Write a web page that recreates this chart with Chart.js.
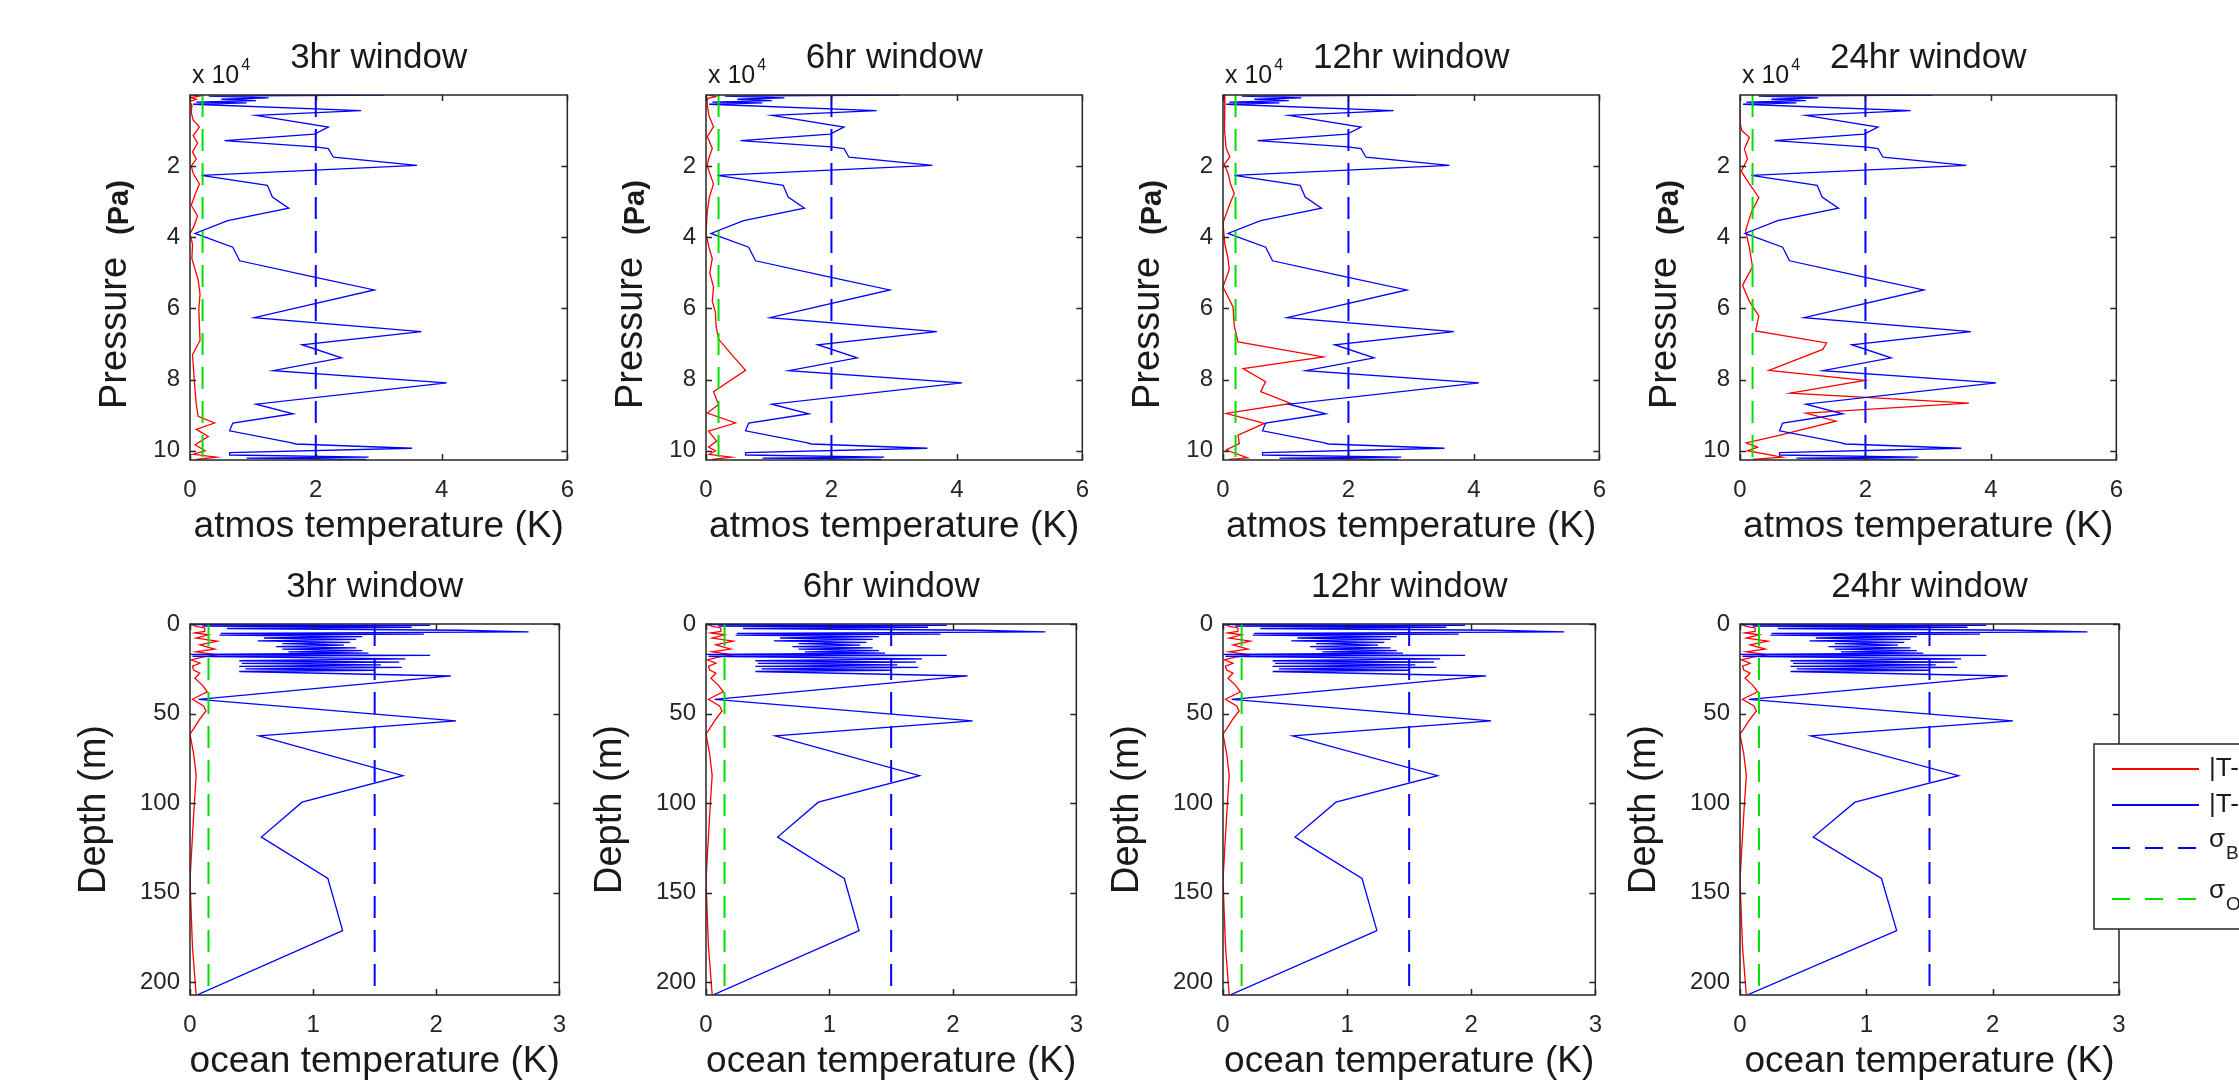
<!DOCTYPE html>
<html>
<head>
<meta charset="utf-8">
<script src="https://cdn.jsdelivr.net/npm/chart.js@4.4.1/dist/chart.umd.min.js"></script>
<style>
  html, body { margin: 0; padding: 0; background: #fff; overflow: hidden; }
  #figure { position: relative; width: 2239px; height: 1082px; }
  #figure canvas { position: absolute; }
</style>
</head>
<body>
<div id="figure"></div>
<script>
// ---- atmosphere: background error profile (same in every window) ----
// pressure in units of 1e4 Pa, error in K
const atmosBgPres = [0.0, 0.03, 0.08, 0.12, 0.16, 0.2, 0.22, 0.26, 0.44, 0.57, 0.90, 1.10, 1.28, 1.46, 1.51, 1.75, 1.98, 2.26, 2.54, 2.87, 3.18, 3.53, 3.89, 4.28, 4.66, 5.11, 5.48, 6.26, 6.65, 7.02, 7.39, 7.75, 8.09, 8.69, 8.96, 9.22, 9.44, 9.77, 9.81, 9.93, 10.05, 10.12, 10.18, 10.21, 10.24];
const atmosBgErr  = [3.08, 0.3, 1.25, 0.5, 1.05, 0.1, 0.9, 0.05, 2.72, 1.05, 2.20, 1.98, 0.55, 1.99, 2.20, 2.28, 3.61, 0.18, 1.23, 1.31, 1.57, 0.60, 0.08, 0.68, 0.79, 1.96, 2.93, 1.02, 3.68, 1.78, 2.41, 1.32, 4.08, 1.05, 1.64, 0.68, 0.63, 1.60, 1.68, 3.53, 0.63, 0.63, 2.84, 0.9, 2.8];

// ---- atmosphere: analysis error per assimilation window ----
const atmosAnaPres3 = [0.0, 0.03, 0.07, 0.12, 0.18, 0.3, 0.5, 0.7, 0.9, 1.14, 1.35, 1.6, 1.8, 2.0, 2.2, 2.5, 2.8, 3.1, 3.4, 3.7, 3.9, 4.2, 4.6, 4.9, 5.2, 5.6, 6.0, 6.5, 6.9, 7.3, 7.8, 8.3, 8.7, 9.03, 9.22, 9.40, 9.6, 9.83, 10.0, 10.1, 10.18, 10.24];
const atmosAnaErr3  = [0.05, 0.15, 0.02, 0.1, 0.0, 0.03, 0.02, 0.05, 0.15, 0.05, 0.12, 0.04, 0.1, 0.02, 0.05, 0.15, 0.08, 0.02, 0.12, 0.06, 0.0, 0.04, 0.03, 0.08, 0.13, 0.16, 0.14, 0.15, 0.16, 0.04, 0.06, 0.08, 0.1, 0.13, 0.39, 0.10, 0.29, 0.08, 0.24, 0.05, 0.42, 0.1];

const atmosAnaPres6 = [0.0, 0.05, 0.1, 0.3, 0.6, 0.89, 1.17, 1.5, 1.8, 2.0, 2.5, 2.9, 3.3, 3.9, 4.3, 4.6, 5.0, 5.4, 5.8, 6.1, 6.5, 6.86, 7.3, 7.74, 8.34, 8.7, 8.94, 9.22, 9.45, 9.73, 9.9, 10.0, 10.1, 10.18, 10.24];
const atmosAnaErr6  = [0.05, 0.15, 0.02, 0.02, 0.05, 0.12, 0.02, 0.1, 0.04, 0.02, 0.12, 0.05, 0.02, 0.0, 0.05, 0.1, 0.06, 0.12, 0.1, 0.15, 0.16, 0.2, 0.41, 0.63, 0.12, 0.2, 0.02, 0.47, 0.04, 0.17, 0.04, 0.15, 0.05, 0.4, 0.1];

const atmosAnaPres12 = [0.0, 0.5, 1.0, 1.5, 1.74, 1.95, 2.2, 2.5, 2.77, 3.05, 3.6, 4.2, 4.6, 4.9, 5.4, 5.96, 6.5, 6.94, 7.36, 7.69, 8.06, 8.34, 8.67, 8.95, 9.23, 9.56, 9.8, 9.98, 10.2, 10.24];
const atmosAnaErr12  = [0.03, 0.02, 0.03, 0.05, 0.11, 0.02, 0.08, 0.12, 0.18, 0.11, 0.0, 0.03, 0.08, 0.1, 0.0, 0.16, 0.18, 0.24, 1.6, 0.32, 0.68, 0.6, 1.08, 0.05, 0.66, 0.24, 0.26, 0.05, 0.39, 0.1];

const atmosAnaPres24 = [0.0, 0.8, 1.0, 1.19, 1.52, 1.8, 2.14, 2.5, 2.88, 3.3, 3.81, 4.3, 4.83, 5.35, 5.8, 6.21, 6.63, 6.97, 7.15, 7.74, 8.02, 8.38, 8.66, 8.94, 9.17, 9.56, 9.78, 9.9, 10.0, 10.18, 10.24];
const atmosAnaErr24  = [0.0, 0.0, 0.03, 0.15, 0.07, 0.12, 0.02, 0.15, 0.3, 0.18, 0.09, 0.15, 0.2, 0.04, 0.15, 0.3, 0.25, 1.38, 1.32, 0.46, 1.99, 0.8, 3.65, 1.05, 1.53, 0.64, 0.1, 0.28, 0.12, 0.67, 0.2];

// ---- ocean: background and analysis error (depth in m, error in K) ----
const oceanBgDepth = [0.3, 0.8, 1.2, 1.8, 2.5, 3.5, 4.4, 5.2, 5.6, 6.2, 7.0, 7.8, 8.6, 9.4, 10.2, 11.0, 11.8, 12.6, 13.3, 14.0, 14.8, 15.6, 16.3, 17.0, 17.5, 18.0, 19.5, 20.5, 21.3, 22.0, 22.8, 23.6, 24.2, 25.0, 25.8, 26.5, 29.0, 42.0, 54.1, 62.4, 84.6, 99.4, 118.9, 142.0, 171.1, 206.9];
const oceanBgErr   = [0.0, 1.95, 0.1, 1.8, 0.3, 2.2, 2.75, 0.25, 1.9, 0.24, 1.4, 0.6, 1.35, 0.55, 1.3, 0.75, 1.25, 0.7, 1.35, 0.75, 1.4, 0.8, 1.45, 0.0, 1.95, 0.02, 1.75, 0.4, 1.7, 0.42, 1.55, 0.4, 1.72, 0.45, 1.5, 0.4, 2.12, 0.07, 2.16, 0.56, 1.73, 0.91, 0.58, 1.12, 1.24, 0.06];

const oceanAnaDepth = [0.3, 1.3, 2.2, 4.1, 5.0, 6.0, 7.9, 9.6, 11.6, 14.0, 15.5, 17.2, 18.5, 20.0, 21.9, 23.5, 25.7, 27.5, 30.3, 34.1, 37.8, 42.0, 45.7, 48.5, 53.0, 58.4, 61.5, 72.6, 84.6, 106.0, 143.0, 180.0, 206.9];
const oceanAnaErr   = [0.02, 0.05, 0.12, 0.12, 0.04, 0.15, 0.05, 0.22, 0.08, 0.2, 0.05, 0.22, 0.1, 0.01, 0.08, 0.02, 0.03, 0.08, 0.04, 0.1, 0.14, 0.02, 0.11, 0.13, 0.08, 0.03, 0.0, 0.03, 0.05, 0.03, 0.0, 0.02, 0.05];

// error standard deviations and the depth/pressure span they are drawn over
const atmosSigmaB = 2.0, atmosSigmaO = 0.2;
const atmosSigmaSpan = [0, 10.2];
const oceanSigmaB = 1.5, oceanSigmaO = 0.15;
const oceanSigmaSpan = [0, 204];

// tick labels
const atmosXTicks = [0, 2, 4, 6];
const atmosYTicks = [2, 4, 6, 8, 10];
const oceanXTicks = [0, 1, 2, 3];
const oceanYTicks = [0, 50, 100, 150, 200];

const windowNames = ["3hr window", "6hr window", "12hr window", "24hr window"];
const legendLabels = [
  { main: "|T-T_true| analysis", sub: "" },
  { main: "|T-T_true| background", sub: "" },
  { main: "\u03c3", sub: "B" },
  { main: "\u03c3", sub: "O" }
];

const FONT = "'Liberation Sans', Arial, Helvetica, sans-serif";
const INK = "#262626";
const RED = "#ff0000", BLUE = "#0000ff", GREEN = "#00e000";

// layout of the 2x4 grid of axes (page pixels)
const colLeft = [190, 706, 1223, 1740];
const rows = [
  { top: 95, height: 365, widths: [380, 379, 379, 379] },
  { top: 624, height: 371, widths: [372, 373, 375, 379] }
];
const MARGIN = { left: 130, top: 95, bottom: 87, right: 20 };

function pairs(ys, xs) {
  return ys.map((y, i) => ({ x: xs[i], y: y }));
}

function sigmaLine(value, span) {
  return span.map(y => ({ x: value, y: y }));
}

// MATLAB-like box, inward ticks, titles and labels
const figurePanel = {
  id: "figurePanel",
  afterDraw(chart, args, opts) {
    const ctx = chart.ctx;
    const a = chart.chartArea;
    const xs = chart.scales.x, ys = chart.scales.y;
    const cx = (a.left + a.right) / 2;
    ctx.save();

    ctx.strokeStyle = INK;
    ctx.lineWidth = 1.5;
    ctx.strokeRect(a.left, a.top, a.right - a.left, a.bottom - a.top);
    ctx.beginPath();
    xs.ticks.forEach(t => {
      const px = Math.round(xs.getPixelForValue(t.value)) + 0.5;
      ctx.moveTo(px, a.bottom); ctx.lineTo(px, a.bottom - 6);
      ctx.moveTo(px, a.top); ctx.lineTo(px, a.top + 6);
    });
    ys.ticks.forEach(t => {
      const py = Math.round(ys.getPixelForValue(t.value)) + 0.5;
      ctx.moveTo(a.left, py); ctx.lineTo(a.left + 6, py);
      ctx.moveTo(a.right, py); ctx.lineTo(a.right - 6, py);
    });
    ctx.stroke();

    ctx.fillStyle = "#1a1a1a";
    ctx.textAlign = "center";
    ctx.textBaseline = "middle";
    ctx.font = "35px " + FONT;
    ctx.fillText(opts.title, cx, a.top - 37);
    ctx.font = "37px " + FONT;
    ctx.fillText(opts.xLabel, cx, a.bottom + 67);

    if (opts.exponent) {
      ctx.textAlign = "left";
      ctx.textBaseline = "alphabetic";
      ctx.font = "25px " + FONT;
      ctx.fillText("x 10", a.left + 2, a.top - 12);
      const w = ctx.measureText("x 10").width;
      ctx.font = "16px " + FONT;
      ctx.fillText(opts.exponent, a.left + 4 + w, a.top - 25);
    }

    // rotated y label
    ctx.textBaseline = "alphabetic";
    if (opts.yUnit) {
      ctx.save();
      ctx.translate(a.left - 64, a.top + 314);
      ctx.rotate(-Math.PI / 2);
      ctx.textAlign = "left";
      ctx.font = "38px " + FONT;
      ctx.fillText(opts.yLabel, 0, 0);
      ctx.restore();
      ctx.save();
      ctx.translate(a.left - 62, a.top + 140);
      ctx.rotate(-Math.PI / 2);
      ctx.textAlign = "left";
      ctx.font = "bold 29px " + FONT;
      ctx.fillText(opts.yUnit, 0, 0);
      ctx.restore();
    } else {
      ctx.save();
      ctx.translate(a.left - 85, (a.top + a.bottom) / 2);
      ctx.rotate(-Math.PI / 2);
      ctx.textAlign = "center";
      ctx.font = "38px " + FONT;
      ctx.fillText(opts.yLabel, 0, 0);
      ctx.restore();
    }

    if (opts.legend) {
      const lx = a.right - 25, ly = a.top + 120;
      const rowY = [25, 61, 104, 155];
      ctx.fillStyle = "#fff";
      ctx.fillRect(lx, ly, 220, 185);
      ctx.strokeStyle = INK;
      ctx.lineWidth = 1.5;
      ctx.strokeRect(lx, ly, 220, 185);
      chart.data.datasets.forEach((ds, i) => {
        const yy = ly + rowY[i];
        ctx.strokeStyle = ds.borderColor;
        ctx.lineWidth = 2;
        ctx.setLineDash(ds.borderDash && ds.borderDash.length ? [18, 15] : []);
        ctx.beginPath();
        ctx.moveTo(lx + 18, yy);
        ctx.lineTo(lx + 105, yy);
        ctx.stroke();
        ctx.setLineDash([]);
        const lab = legendLabels[i];
        ctx.fillStyle = "#1a1a1a";
        ctx.textAlign = "left";
        ctx.textBaseline = "middle";
        ctx.font = "26px " + FONT;
        ctx.fillText(lab.main, lx + 115, lab.sub ? yy - 8 : yy);
        if (lab.sub) {
          const w = ctx.measureText(lab.main).width;
          ctx.font = "19px " + FONT;
          ctx.fillText(lab.sub, lx + 116 + w, yy + 6);
        }
      });
    }
    ctx.restore();
  }
};

function makePanel(row, col, cfg) {
  const r = rows[row];
  const w = r.widths[col];
  const padRight = cfg.legend ? 2239 - (colLeft[col] + w) : MARGIN.right;
  const canvas = document.createElement("canvas");
  canvas.width = MARGIN.left + w + padRight;
  canvas.height = MARGIN.top + r.height + MARGIN.bottom;
  canvas.style.left = (colLeft[col] - MARGIN.left) + "px";
  canvas.style.top = (r.top - MARGIN.top) + "px";
  document.getElementById("figure").appendChild(canvas);

  const tickFont = { family: FONT, size: 24 };
  new Chart(canvas, {
    type: "scatter",
    data: {
      datasets: [
        { data: cfg.ana, borderColor: RED, borderWidth: 1.3, order: 4 },
        { data: cfg.bg, borderColor: BLUE, borderWidth: 1.3, order: 3 },
        { data: cfg.sigB, borderColor: BLUE, borderWidth: 2, borderDash: [22, 12], order: 2 },
        { data: cfg.sigO, borderColor: GREEN, borderWidth: 2, borderDash: [22, 12], order: 1 }
      ].map(d => Object.assign({ showLine: true, pointRadius: 0, fill: false, tension: 0 }, d))
    },
    options: {
      responsive: false,
      animation: false,
      devicePixelRatio: 1,
      layout: { padding: { left: 0, top: MARGIN.top, right: padRight, bottom: 0 } },
      plugins: {
        legend: { display: false },
        tooltip: { enabled: false },
        figurePanel: {
          title: cfg.title, xLabel: cfg.xLabel, yLabel: cfg.yLabel,
          yUnit: cfg.yUnit || "", exponent: cfg.exponent || "", legend: !!cfg.legend
        }
      },
      scales: {
        x: {
          type: "linear", min: cfg.xTicks[0], max: cfg.xTicks[cfg.xTicks.length - 1],
          grid: { display: false, drawTicks: false }, border: { display: false },
          ticks: { font: tickFont, color: INK, padding: 16, maxRotation: 0 },
          afterBuildTicks: s => { s.ticks = cfg.xTicks.map(v => ({ value: v })); },
          afterFit: s => { s.height = MARGIN.bottom; }
        },
        y: {
          type: "linear", reverse: true, min: cfg.yRange[0], max: cfg.yRange[1],
          grid: { display: false, drawTicks: false }, border: { display: false },
          ticks: { font: tickFont, color: INK, padding: 10 },
          afterBuildTicks: s => { s.ticks = cfg.yTicks.map(v => ({ value: v })); },
          afterFit: s => { s.width = MARGIN.left; }
        }
      }
    },
    plugins: [figurePanel]
  });
}

const atmosAna = [
  pairs(atmosAnaPres3, atmosAnaErr3),
  pairs(atmosAnaPres6, atmosAnaErr6),
  pairs(atmosAnaPres12, atmosAnaErr12),
  pairs(atmosAnaPres24, atmosAnaErr24)
];

for (let c = 0; c < 4; c++) {
  makePanel(0, c, {
    title: windowNames[c],
    xLabel: "atmos temperature (K)",
    yLabel: "Pressure", yUnit: "(Pa)", exponent: "4",
    ana: atmosAna[c],
    bg: pairs(atmosBgPres, atmosBgErr),
    sigB: sigmaLine(atmosSigmaB, atmosSigmaSpan),
    sigO: sigmaLine(atmosSigmaO, atmosSigmaSpan),
    xTicks: atmosXTicks, yTicks: atmosYTicks, yRange: [0, 10.26]
  });
  makePanel(1, c, {
    title: windowNames[c],
    xLabel: "ocean temperature (K)",
    yLabel: "Depth (m)",
    ana: pairs(oceanAnaDepth, oceanAnaErr),
    bg: pairs(oceanBgDepth, oceanBgErr),
    sigB: sigmaLine(oceanSigmaB, oceanSigmaSpan),
    sigO: sigmaLine(oceanSigmaO, oceanSigmaSpan),
    xTicks: oceanXTicks, yTicks: oceanYTicks, yRange: [0, 207],
    legend: c === 3
  });
}
</script>
</body>
</html>
